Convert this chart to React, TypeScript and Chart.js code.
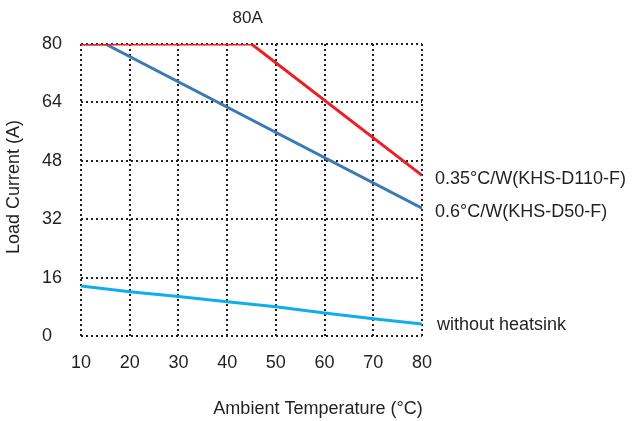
import React, { useEffect, useRef } from "react";
import { Chart, registerables } from "chart.js";

Chart.register(...registerables);

const redTemps = [10, 45, 80];
const redLoads = [80, 80, 44];
const blueTemps = [10, 15, 80];
const blueLoads = [80, 80, 35];
const cyanTemps = [10, 20, 30, 40, 50, 60, 70, 80];
const cyanLoads = [13.7, 12.1, 10.8, 9.4, 8.0, 6.3, 4.7, 3.3];

const redLabel = "0.35°C/W(KHS-D110-F)";
const blueLabel = "0.6°C/W(KHS-D50-F)";
const cyanLabel = "without heatsink";
const topLabel = "80A";
const yTitle = "Load Current (A)";
const xTitle = "Ambient Temperature (°C)";

const FONT = "'Liberation Sans', Arial, sans-serif";
const TEXT = "#231f20";

const toPoints = (xs: number[], ys: number[]) => xs.map((x, i) => ({ x, y: ys[i] }));

export default function App() {
  const ref = useRef<HTMLCanvasElement | null>(null);
  useEffect(() => {
    if (!ref.current) return;
    const annot = {
      id: "annot",
      afterDraw(chart: any) {
        const ctx = chart.ctx;
        const xs = chart.scales.x;
        const ys = chart.scales.y;
        ctx.save();
        ctx.fillStyle = TEXT;
        ctx.font = `18px ${FONT}`;
        ctx.textBaseline = "middle";
        ctx.textAlign = "left";
        const lx = xs.getPixelForValue(80) + 13;
        ctx.fillText(redLabel, lx, ys.getPixelForValue(redLoads[redLoads.length - 1]) + 4);
        ctx.fillText(blueLabel, lx, ys.getPixelForValue(blueLoads[blueLoads.length - 1]) + 4);
        ctx.fillText(cyanLabel, lx + 2, ys.getPixelForValue(cyanLoads[cyanLoads.length - 1]) + 1);
        ctx.textAlign = "center";
        ctx.fillText(xTitle, 318, 409);
        ctx.font = `17px ${FONT}`;
        ctx.fillText(topLabel, xs.getPixelForValue(44.2), chart.chartArea.top - 26);
        ctx.font = `18px ${FONT}`;
        ctx.translate(14, 187);
        ctx.rotate(-Math.PI / 2);
        ctx.fillText(yTitle, 0, 0);
        ctx.restore();
      },
    };
    const grid = { color: "#231f20", lineWidth: 2, drawTicks: false };
    const border = { display: false, dash: [2, 3] };
    const chart = new Chart(ref.current, {
      type: "line",
      data: {
        datasets: [
          {
            data: toPoints(redTemps, redLoads),
            borderColor: "#ec1f27",
            borderWidth: 3,
            pointRadius: 0,
            tension: 0,
          },
          {
            data: toPoints(blueTemps, blueLoads),
            borderColor: "#3b7ab7",
            borderWidth: 3,
            pointRadius: 0,
            tension: 0,
          },
          {
            data: toPoints(cyanTemps, cyanLoads),
            borderColor: "#0daeea",
            borderWidth: 3,
            pointRadius: 0,
            tension: 0,
          },
        ],
      },
      options: {
        animation: false,
        responsive: false,
        devicePixelRatio: 1,
        layout: { padding: { left: 42, right: 210, top: 44, bottom: 0 } },
        plugins: { legend: { display: false }, tooltip: { enabled: false } },
        scales: {
          x: {
            type: "linear",
            min: 10,
            max: 80,
            grid,
            border,
            ticks: { stepSize: 10, padding: 16, color: TEXT, font: { family: FONT, size: 18 } },
            afterFit(scale: any) {
              scale.height = 85;
            },
          },
          y: {
            min: 0,
            max: 80,
            grid,
            border,
            ticks: { stepSize: 16, crossAlign: "far", color: TEXT, font: { family: FONT, size: 18 } },
            afterFit(scale: any) {
              scale.width = 39;
            },
          },
        },
      },
      plugins: [annot],
    } as any);
    return () => chart.destroy();
  }, []);
  return (
    <div style={{ position: "absolute", left: 0, top: 0, width: 632, height: 421, background: "#fff" }}>
      <canvas ref={ref} width={632} height={421} />
    </div>
  );
}
